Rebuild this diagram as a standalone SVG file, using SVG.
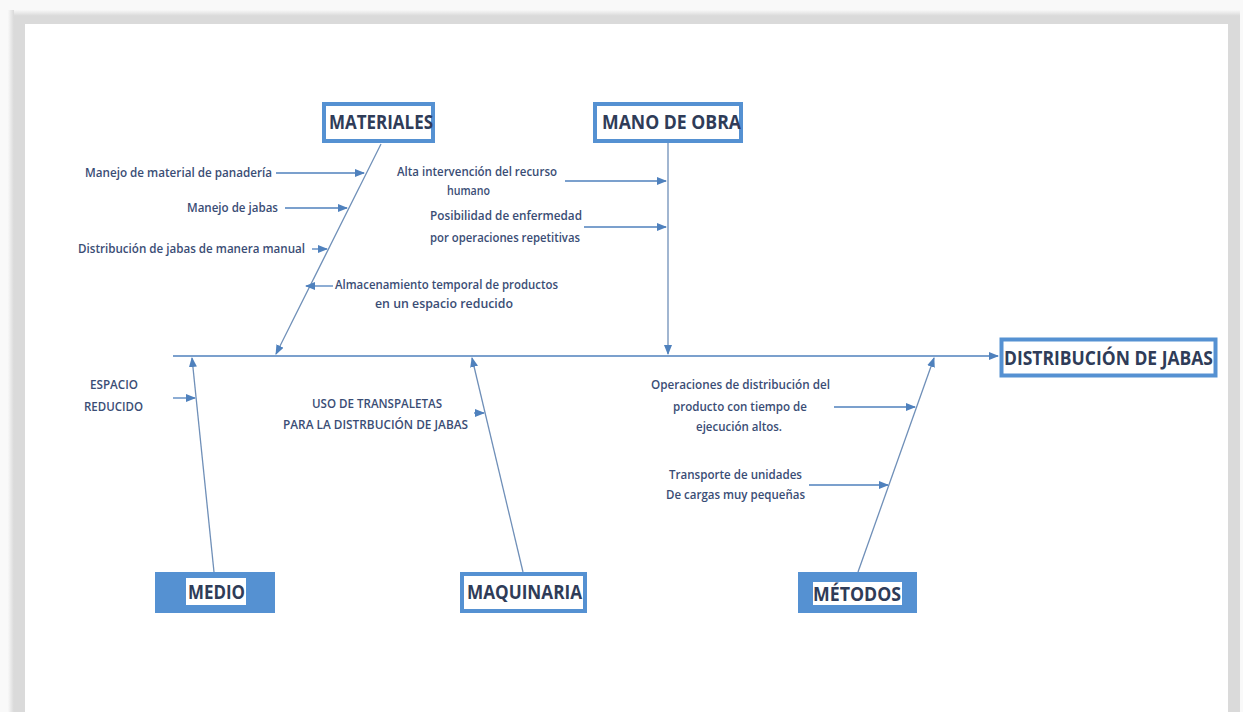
<svg xmlns="http://www.w3.org/2000/svg" width="1243" height="712" viewBox="0 0 1243 712">
  <defs>
    <marker id="arr" viewBox="0 0 10 8" refX="9" refY="4" markerWidth="10" markerHeight="8" markerUnits="userSpaceOnUse" orient="auto">
      <path d="M0,0 L10,4 L0,8 z" fill="#4f81bd"/>
    </marker>
    <linearGradient id="topg" x1="0" y1="0" x2="0" y2="1">
      <stop offset="0" stop-color="#f8f8f8"/>
      <stop offset="1" stop-color="#d9d9d9"/>
    </linearGradient>
    <linearGradient id="leftg" x1="0" y1="0" x2="1" y2="0">
      <stop offset="0" stop-color="#f8f8f8"/>
      <stop offset="1" stop-color="#d9d9d9"/>
    </linearGradient>
  </defs>
  <style>
    .lbl { font-family: "Liberation Sans Narrow", "Open Sans", "Liberation Sans", sans-serif; font-size: 12px; font-weight: 600; fill: #3a4d75; }
    .hdr { font-family: "Liberation Sans Narrow", "Open Sans", "Liberation Sans", sans-serif; font-size: 20px; font-weight: bold; fill: #2f3c58; }
    .box { fill: #ffffff; stroke: #5591d2; stroke-width: 4; }
    .fbox { fill: #5591d2; }
    .hl { fill: #ffffff; }
    .c { stroke: #4f81bd; stroke-width: 1.3; fill: none; marker-end: url(#arr); }
    .b { stroke: #6f8fb8; stroke-width: 1.3; fill: none; marker-end: url(#arr); }
  </style>

  <!-- page frame -->
  <rect x="0" y="0" width="1243" height="712" fill="#f9f9f9"/>
  <rect x="8" y="10" width="1232" height="702" fill="#dadada"/>
  <rect x="8" y="10" width="1232" height="6" fill="url(#topg)"/>
  <rect x="8" y="10" width="6" height="702" fill="url(#leftg)"/>
  <rect x="25" y="24" width="1203" height="688" fill="#ffffff"/>

  <g id="connectors">
    <line class="c" x1="173" y1="356" x2="998" y2="356"/>
    <line class="b" x1="381" y1="144" x2="276" y2="354"/>
    <line class="b" x1="668" y1="143" x2="668" y2="354"/>
    <line class="b" x1="214" y1="572" x2="192" y2="358"/>
    <line class="b" x1="523" y1="572" x2="472" y2="358"/>
    <line class="b" x1="858" y1="572" x2="934" y2="358"/>
    <line class="c" x1="276" y1="173" x2="364" y2="173"/>
    <line class="c" x1="285" y1="208" x2="347" y2="208"/>
    <line class="c" x1="312" y1="249" x2="327" y2="249"/>
    <line class="c" x1="333" y1="286" x2="306" y2="286"/>
    <line class="c" x1="565" y1="181" x2="666" y2="181"/>
    <line class="c" x1="584" y1="227" x2="666" y2="227"/>
    <line class="c" x1="173" y1="398" x2="195" y2="398"/>
    <line class="c" x1="474" y1="413" x2="484" y2="413"/>
    <line class="c" x1="834" y1="407" x2="915" y2="407"/>
    <line class="c" x1="809" y1="485" x2="888" y2="485"/>
  </g>

  <g id="materiales">
    <rect class="box" x="324" y="104" width="109" height="37"/>
    <text class="hdr" x="329" y="129" textLength="104" lengthAdjust="spacingAndGlyphs">MATERIALES</text>
    <text class="lbl" x="85" y="177" textLength="187" lengthAdjust="spacingAndGlyphs">Manejo de material de panadería</text>
    <text class="lbl" x="187" y="212" textLength="91" lengthAdjust="spacingAndGlyphs">Manejo de jabas</text>
    <text class="lbl" x="78" y="253" textLength="227" lengthAdjust="spacingAndGlyphs">Distribución de jabas de manera manual</text>
    <text class="lbl" x="335" y="289" textLength="223" lengthAdjust="spacingAndGlyphs">Almacenamiento temporal de productos</text>
    <text class="lbl" x="375" y="308" textLength="138" lengthAdjust="spacingAndGlyphs">en un espacio reducido</text>
  </g>

  <g id="mano-de-obra">
    <rect class="box" x="595" y="104" width="146" height="37"/>
    <text class="hdr" x="602" y="129" textLength="139" lengthAdjust="spacingAndGlyphs">MANO DE OBRA</text>
    <text class="lbl" x="397" y="176" textLength="160" lengthAdjust="spacingAndGlyphs">Alta intervención del recurso</text>
    <text class="lbl" x="447" y="195" textLength="43" lengthAdjust="spacingAndGlyphs">humano</text>
    <text class="lbl" x="430" y="220" textLength="152" lengthAdjust="spacingAndGlyphs">Posibilidad de enfermedad</text>
    <text class="lbl" x="430" y="242" textLength="150" lengthAdjust="spacingAndGlyphs">por operaciones repetitivas</text>
  </g>

  <g id="distribucion-de-jabas">
    <rect class="box" x="1001.5" y="339.5" width="214" height="36" stroke-width="3"/>
    <text class="hdr" x="1004" y="365" textLength="209" lengthAdjust="spacingAndGlyphs">DISTRIBUCIÓN DE JABAS</text>
  </g>

  <g id="medio">
    <rect class="fbox" x="155" y="572" width="120" height="41"/>
    <rect class="hl" x="186" y="578" width="60" height="27"/>
    <text class="hdr" x="188" y="599" textLength="57" lengthAdjust="spacingAndGlyphs">MEDIO</text>
    <text class="lbl" x="90" y="389" textLength="48" lengthAdjust="spacingAndGlyphs">ESPACIO</text>
    <text class="lbl" x="84" y="411" textLength="59" lengthAdjust="spacingAndGlyphs">REDUCIDO</text>
  </g>

  <g id="maquinaria">
    <rect class="box" x="462" y="574" width="123" height="37"/>
    <text class="hdr" x="467" y="599" textLength="115" lengthAdjust="spacingAndGlyphs">MAQUINARIA</text>
    <text class="lbl" x="312" y="408" textLength="130" lengthAdjust="spacingAndGlyphs">USO DE TRANSPALETAS</text>
    <text class="lbl" x="283" y="429" textLength="185" lengthAdjust="spacingAndGlyphs">PARA LA DISTRBUCIÓN DE JABAS</text>
  </g>

  <g id="metodos">
    <rect class="fbox" x="798" y="572" width="119" height="41"/>
    <rect class="hl" x="813" y="582" width="89" height="23"/>
    <text class="hdr" x="813" y="601" textLength="88" lengthAdjust="spacingAndGlyphs">MÉTODOS</text>
    <text class="lbl" x="651" y="389" textLength="179" lengthAdjust="spacingAndGlyphs">Operaciones de distribución del</text>
    <text class="lbl" x="673" y="411" textLength="134" lengthAdjust="spacingAndGlyphs">producto con tiempo de</text>
    <text class="lbl" x="696" y="431" textLength="86" lengthAdjust="spacingAndGlyphs">ejecución altos.</text>
    <text class="lbl" x="669" y="479" textLength="133" lengthAdjust="spacingAndGlyphs">Transporte de unidades</text>
    <text class="lbl" x="666" y="499" textLength="139" lengthAdjust="spacingAndGlyphs">De cargas muy pequeñas</text>
  </g>
</svg>
